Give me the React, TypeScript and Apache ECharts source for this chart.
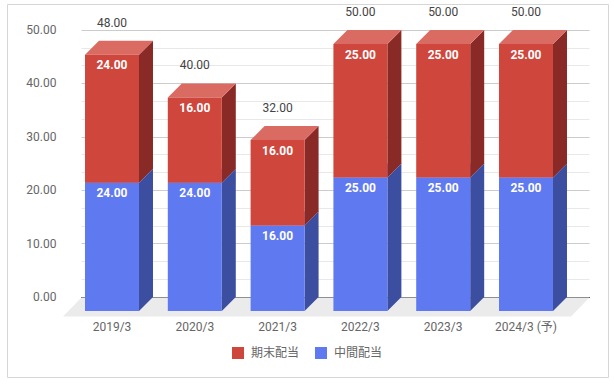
import React, { useEffect, useRef } from "react";
import * as echarts from "echarts";

const categories = ["2019/3", "2020/3", "2021/3", "2022/3", "2023/3", "2024/3 (予)"];
const interim = [24, 24, 16, 25, 25, 25]; // 中間配当
const yearEnd = [24, 16, 16, 25, 25, 25]; // 期末配当
const totals = [48, 40, 32, 50, 50, 50];
const yTicks = { min: 0, max: 50, interval: 10 };

const FONT = "Roboto, 'Noto Sans CJK JP', sans-serif";
const DEPTH_X = 14;
const DEPTH_Y = -14;

const RED = { front: "#CF463C", top: "#DA6B62", side: "#8A2A26" };
const BLUE = { front: "#5F79F0", top: "#8294F3", side: "#3C4EA0" };

function make3DRender(colors: { front: string; top: string; side: string }, withTotal: boolean) {
  return (params: any, api: any) => {
    const idx = api.value(0);
    const base = api.value(1);
    const val = api.value(2);
    const pBase = api.coord([idx, base]);
    const pTop = api.coord([idx, base + val]);
    const band = api.size([1, 0])[0];
    const w = band * 0.652;
    const l = pBase[0] - w / 2;
    const r = pBase[0] + w / 2;
    const yb = pBase[1];
    const yt = pTop[1];
    const children: any[] = [
      {
        type: "polygon",
        shape: { points: [[r, yb], [r + DEPTH_X, yb + DEPTH_Y], [r + DEPTH_X, yt + DEPTH_Y], [r, yt]] },
        style: { fill: colors.side },
      },
      {
        type: "polygon",
        shape: { points: [[l, yt], [r, yt], [r + DEPTH_X, yt + DEPTH_Y], [l + DEPTH_X, yt + DEPTH_Y]] },
        style: { fill: colors.top },
      },
      {
        type: "rect",
        shape: { x: l, y: yt, width: w, height: yb - yt },
        style: { fill: colors.front },
      },
      {
        type: "text",
        style: {
          text: val.toFixed(2),
          x: pBase[0],
          y: yt + 10.5,
          fill: "#ffffff",
          fontSize: 12,
          fontWeight: "bold",
          fontFamily: FONT,
          align: "center",
          verticalAlign: "middle",
        },
      },
    ];
    if (withTotal) {
      const tot = api.value(3);
      const pTot = api.coord([idx, tot]);
      children.push({
        type: "text",
        style: {
          text: tot.toFixed(2),
          x: pTot[0],
          y: pTot[1] - 32,
          fill: "#444444",
          fontSize: 12,
          fontFamily: FONT,
          align: "center",
          verticalAlign: "middle",
        },
      });
    }
    return { type: "group", children };
  };
}

export default function App() {
  const ref = useRef<HTMLDivElement>(null);
  useEffect(() => {
    if (!ref.current) return;
    const chart = echarts.init(ref.current, undefined, { renderer: "svg" });
    const blueData = interim.map((v, i) => [i, 0, v]);
    const redData = yearEnd.map((v, i) => [i, interim[i], v, totals[i]]);
    chart.setOption({
      animation: false,
      backgroundColor: "#ffffff",
      textStyle: { fontFamily: FONT },
      graphic: [
        {
          type: "rect",
          shape: { x: 7.5, y: 4.5, width: 601, height: 373 },
          style: { fill: "none", stroke: "#d6d6d6", lineWidth: 1 },
          silent: true,
        },
      ],
      legend: {
        left: "center",
        top: 342,
        itemWidth: 12,
        itemHeight: 12,
        itemGap: 16,
        textStyle: { color: "#666666", fontSize: 12, fontFamily: FONT, padding: [0, 0, 0, 2] },
        data: [
          { name: "期末配当", icon: "rect", itemStyle: { color: RED.front } },
          { name: "中間配当", icon: "rect", itemStyle: { color: BLUE.front } },
        ],
      },
      grid: [
        { left: 81.5, top: 30, width: 508, height: 267 },
        { left: 70.6, top: 44, width: 496.8, height: 267 },
      ],
      xAxis: [
        {
          gridIndex: 0,
          type: "value",
          min: 0,
          max: 1,
          axisLine: { show: true, lineStyle: { color: "#333333", width: 1 } },
          axisTick: { show: false },
          axisLabel: { show: false },
          splitLine: { show: false },
        },
        {
          gridIndex: 1,
          type: "category",
          data: categories,
          axisLine: { show: false },
          axisTick: { show: false },
          axisLabel: { color: "#666666", fontSize: 12, margin: 10, fontFamily: FONT },
        },
      ],
      yAxis: [
        {
          gridIndex: 0,
          type: "value",
          min: yTicks.min,
          max: yTicks.max,
          interval: yTicks.interval,
          axisLine: { show: false },
          axisTick: { show: false },
          axisLabel: {
            color: "#666666",
            fontSize: 12,
            margin: 25,
            fontFamily: FONT,
            formatter: (v: number) => v.toFixed(2),
          },
          splitLine: { show: true, lineStyle: { color: "#cccccc" } },
          minorTick: { show: false, splitNumber: 3 },
          minorSplitLine: { show: true, lineStyle: { color: "#e8e8e8" } },
        },
        {
          gridIndex: 1,
          type: "value",
          min: yTicks.min,
          max: yTicks.max,
          show: false,
        },
      ],
      series: [
        {
          name: "floor",
          type: "custom",
          xAxisIndex: 0,
          yAxisIndex: 0,
          z: 1,
          silent: true,
          data: [[0, 0]],
          renderItem: (params: any, api: any) => {
            const p0 = api.coord([0, 0]);
            const p1 = api.coord([1, 0]);
            const y = p0[1] + 0.5;
            return {
              type: "polygon",
              shape: {
                points: [
                  [p0[0], y],
                  [p1[0], y],
                  [p1[0] - 18.5, y + 19],
                  [p0[0] - 18.5, y + 19],
                ],
              },
              style: { fill: "#ebebeb" },
            };
          },
        },
        {
          name: "中間配当",
          type: "custom",
          xAxisIndex: 1,
          yAxisIndex: 1,
          z: 2,
          itemStyle: { color: BLUE.front },
          data: blueData,
          renderItem: make3DRender(BLUE, false),
        },
        {
          name: "期末配当",
          type: "custom",
          xAxisIndex: 1,
          yAxisIndex: 1,
          z: 3,
          itemStyle: { color: RED.front },
          data: redData,
          renderItem: make3DRender(RED, true),
        },
      ],
    });
    return () => chart.dispose();
  }, []);
  return (
    <div
      ref={ref}
      style={{ position: "fixed", left: 0, top: 0, width: 614, height: 384 }}
    />
  );
}
